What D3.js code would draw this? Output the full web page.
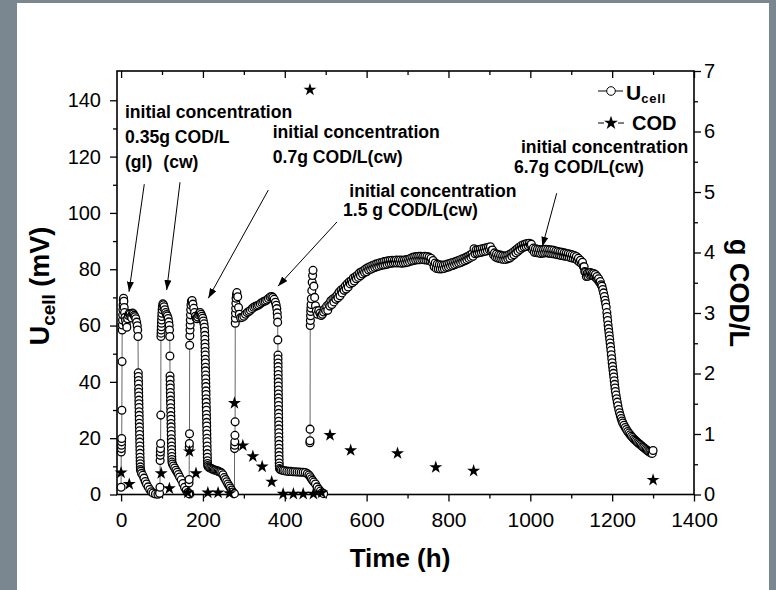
<!DOCTYPE html>
<html><head><meta charset="utf-8">
<script src="https://cdn.jsdelivr.net/npm/d3@7"></script>
<style>body{margin:0;background:#7a8690}svg{display:block}text{font-family:"Liberation Sans",Arial,Helvetica,sans-serif}</style>
</head><body><svg id="c" width="776" height="590"></svg>
<script>
// ---------- data: U_cell (mV) per run, [time h, value] ----------
const run1=[[0,2.6],[0.3,15.1],[0.6,16.3],[0.9,17.5],[1.2,18.7],[1.5,19.9],[1.9,29.9],[2.3,47.2],[2.7,58.4],[3.1,60.2],[3.5,62],[3.9,63.8],[4.4,65.6],[4.9,67.3],[5.4,69.1],[6,69.7],[6.8,68.6],[7.6,66.4],[8.5,64.6],[9.5,62.9],[11,61.8],[12.5,60.6],[14,59.4],[16,62.4],[18,63.6],[20,64.3],[22,64.1],[24,63.2],[26,62.7],[28,64.4],[30,64.2],[32,63.6],[34,63.1],[36,62.4],[38,61.2],[39.5,59.9],[40.5,58.4],[41.3,56.1],[42,43.2],[42.2,41.9],[42.4,40.5],[42.6,39.2],[42.8,37.6],[43,36.3],[43.2,35],[43.4,33.5],[43.6,32.2],[43.8,30.9],[44,29.4],[44.2,28.1],[44.4,26.7],[44.6,25.3],[44.8,24],[45,22.6],[45.2,21.3],[45.4,19.9],[45.6,18.6],[45.8,17.2],[46,15.9],[46.2,14.6],[46.4,13.2],[46.6,12],[46.8,10.9],[47,9.8],[47.3,8.9],[48.5,8.3],[50,7.5],[53,6.8],[56,5.8],[59,4.6],[62,3.7],[66,2.7],[70,1.8],[74,1],[78,0.5],[84,0.2],[90,0.1]];
const run2=[[94,0.4],[95,2.6],[95.4,12.1],[95.7,13.9],[96,15.1],[96.3,16.3],[96.6,18.1],[97,28.2],[97.4,56.1],[97.7,57.3],[98,58.4],[98.3,59.6],[98.6,60.8],[99,62],[99.4,63.2],[99.8,64.4],[100.3,65.6],[101,66.7],[102,67.7],[103.5,67.4],[105,66.7],[107,65.6],[109,64.6],[111,63.9],[113,63.4],[115,62.5],[116.5,61.3],[117.5,60],[118.3,58.4],[119,56.1],[119.3,49.2],[119.6,42.1],[119.8,40.7],[120,39.1],[120.2,37.8],[120.4,36.2],[120.6,35],[120.8,33.5],[121,32.3],[121.2,30.8],[121.4,29.5],[121.6,28],[121.8,26.7],[122,25.2],[122.2,24],[122.4,22.6],[122.6,21.3],[122.8,19.8],[123,18.6],[123.2,17.2],[123.4,16],[123.6,14.7],[123.8,13.5],[124,12.4],[124.3,11.5],[125.5,10.8],[128,10.1],[131,9.4],[134,8.6],[137,7.9],[140,7.1],[143,6.2],[147,5.2],[151,3.9],[155,2.6],[159,1.5],[163,0.7],[168,0.2]];
const run3=[[165.5,0.3],[166,4.1],[166.3,5.3],[166.6,16.9],[166.9,18.1],[167.2,21.6],[167.6,53],[168,56.4],[168.4,58.4],[168.8,60.2],[169.2,62],[169.6,63.8],[170.1,65.6],[170.8,67.3],[171.8,68.6],[173.5,68.9],[175.5,67.6],[177.5,66.1],[179.5,64.6],[181.5,63.3],[183.5,62.6],[185.5,62.4],[187.5,63],[189.5,63.8],[191.5,64.4],[193.5,64.6],[195.5,64],[197.5,63.3],[199.5,62.6],[201,61.6],[202.5,60.6],[203.5,59.4],[204.2,58],[204.6,56.5],[204.8,55.1],[205,53.6],[205.2,52.3],[205.4,50.8],[205.6,49.5],[205.8,48],[206,46.7],[206.2,45.2],[206.4,43.9],[206.6,42.4],[206.8,41.1],[207,39.6],[207.2,38.3],[207.4,36.8],[207.6,35.5],[207.8,34],[208,32.7],[208.2,31.2],[208.4,29.9],[208.6,28.4],[208.8,27.1],[209,25.6],[209.2,24.3],[209.4,22.8],[209.6,21.5],[209.8,20],[210,18.7],[210.2,17.2],[210.4,15.9],[210.6,14.5],[210.8,13.2],[211,12],[211.3,11],[211.7,10.3],[213,9.8],[216,9.5],[219,9.3],[222,9.1],[225,8.9],[228,8.7],[231,8.6],[234,8.4],[237,8.3],[240,8.1],[243,7.9],[246,7.6],[249,7],[252,6],[255,5.3],[258,4.5],[261,3.7],[264,3],[267,2.3],[270,1.6],[273,0.9],[276,0.3]];
const run4=[[277,0.3],[277.3,16.3],[277.6,17.5],[277.9,18.7],[278.2,21],[278.6,25.8],[279,60.8],[279.3,62.6],[279.6,64.4],[280,66.1],[280.5,67.9],[281,69.7],[282,70.9],[283,71.7],[285,70.2],[287,66.4],[289,64],[292,62.8],[296,62.9],[300,63.3],[304,64],[308,64.6],[312,65],[316,65.4],[320,66],[324,66.5],[328,66.8],[332,67],[336,67.3],[340,67.7],[344,68.2],[348,68.5],[352,68.7],[356,69.1],[360,69.6],[364,70.1],[368,70.3],[371,70],[374,69.3],[377,68.3],[379,67.2],[380.5,66],[381.5,64.5],[382.2,63],[382.6,61.2],[383,54.9],[383.4,49.5],[383.5,48.1],[383.6,46.7],[383.7,45.4],[383.8,44],[383.9,42.6],[384,41.2],[384.1,39.9],[384.2,38.5],[384.3,37.1],[384.4,35.7],[384.5,34.3],[384.6,33],[384.7,31.6],[384.8,30.2],[384.9,28.8],[385,27.4],[385.1,26],[385.2,24.7],[385.3,23.3],[385.4,21.9],[385.5,20.5],[385.6,19.2],[385.7,17.8],[385.8,16.4],[385.9,15.1],[386,13.8],[386.2,12.5],[386.4,11.2],[386.6,10.1],[387,9.2],[389,8.9],[392,8.7],[396,8.5],[400,8.4],[405,8.3],[410,8.2],[415,8.2],[420,8.1],[425,8.1],[430,8],[435,8],[440,7.9],[445,7.9],[450,7.8],[455,7.4],[459,6.9],[462,6.3],[465,5.6],[468,5],[471,4.4],[475,3.7],[479,2.7],[483,1.9],[487,1.2],[491,0.6],[495,0.3]];
const run5=[[461.4,18.4],[461.6,19.1],[461.8,23.2],[462.2,60],[462.6,61.8],[463,63.5],[463.4,65],[463.8,66.2],[464.3,67.5],[465,69.5],[466,72.4],[467,75.4],[468,77.8],[469,79.6],[471,74],[473,70],[475,67],[477,65.2],[480,64],[483,65.3],[486,64.4],[489,63.6],[492,64],[495,64.8],[497.5,65.9],
[500,65.3],[502.5,66.9],[505,65.4],[507.5,67.6],[510,66.9],[512.5,68.8],[515,67.5],[517.5,69.4],[520,68.4],[522.5,69.9],[525,69.3],[527.5,70.7],[530,69.9],[532.5,71.8],[535,70.6],[537.5,72.6],[540,71.6],[542.5,73.1],[545,72.5],[547.5,74],[550,73],[552.5,74.8],[555,73.7],[557.5,75.5],[560,74.8],[562.5,75.9],[565,75.2],[567.5,76.9],[570,75.8],[572.5,77.3],[575,76.6],[577.5,77.9],[580,77.1],[582.5,78.7],[585,77.7],[587.5,79.1],[590,78.3],[592.5,79.5],[595,78.8],[597.5,80.1],
[600,79.1],[602.5,80.5],[605,79.7],[607.5,80.9],[610,80],[612.5,81.2],[615,80.3],[617.5,81.5],[620,80.6],[622.5,81.8],[625,80.9],[627.5,82],[630,81.1],[632.5,82.3],[635,81.3],[637.5,82.4],[640,81.5],[642.5,82.7],[645,81.6],[647.5,82.8],[650,81.8],[652.5,83],[655,82],[657.5,83.1],[660,82.1],[662.5,83.2],[665,82.2],[667.5,83.1],[670,82.3],[672.5,83.3],[675,82.2],[677.5,83.2],[680,82.3],[682.5,83.3],[685,82.1],[687.5,83.2],[690,82.2],[692.5,83.3],[695,82.3],[697.5,83.4],
[700,82.5],[702.5,83.5],[705,82.7],[707.5,83.9],[710,82.9],[712.5,84.2],[715,83.1],[717.5,84.4],[720,83.3],[722.5,84.5],[725,83.4],[727.5,84.6],[730,83.4],[732.5,84.6],[735,83.5],[737.5,84.5],[740,83.4],[742.5,84.6],[745,83.3],[747.5,84.5],[750,83.2],[752.5,84.3],[755,83],[757.5,83.9],[760,82.5],[762.5,83.1],[765,80.9],[767.5,82.2],[770,80.3],[772.5,81.8],[775,80.2],[777.5,81.6],[780,80.1],[782.5,81.5],[785,80.2],[787.5,81.4],[790,80.3],[792.5,81.6],[795,80.6],[797.5,81.8],
[800,80.8],[802.5,82],[805,81.1],[807.5,82.3],[810,81.3],[812.5,82.5],[815,81.6],[817.5,82.7],[820,81.9],[822.5,83],[825,82.1],[827.5,83.3],[830,82.4],[832.5,83.6],[835,82.7],[837.5,83.9],[840,83],[842.5,84.2],[845,83.4],[847.5,84.6],[850,83.8],[852.5,85],[855,84.2],[857.5,85.4],[860,84.6],[862.5,87.3],[865,85.5],[867.5,86.8],[870,85.7],[872.5,86.9],[875,85.9],[877.5,87.1],[880,86],[882.5,87.3],[885,86.2],[887.5,87.4],[890,86.4],[892.5,87.6],[895,86.6],[897.5,87.8],
[900,86.9],[902.5,88],[905,86.6],[907.5,86.8],[910,85.1],[912.5,85.8],[915,84.3],[917.5,85.4],[920,84],[922.5,85.1],[925,83.8],[927.5,85],[930,83.6],[932.5,84.8],[935,83.5],[937.5,84.7],[940,83.5],[942.5,84.8],[945,83.7],[947.5,85.1],[950,84],[952.5,85.5],[955,84.6],[957.5,86],[960,85.1],[962.5,86.6],[965,85.8],[967.5,87.2],[970,86.4],[972.5,87.8],[975,87],[977.5,88.3],[980,87.5],[982.5,88.7],[985,87.9],[987.5,88.9],[990,88.1],[992.5,89.1],[995,88.3],[997.5,89.2],
[1000,88.6],[1002.5,88.9],[1005,87],[1007.5,87.5],[1010,86],[1012.5,87.3],[1015,85.9],[1017.5,87.1],[1020,85.8],[1022.5,87],[1025,85.6],[1027.5,86.9],[1030,85.7],[1032.5,87],[1035,85.8],[1037.5,87.1],[1040,85.9],[1042.5,87],[1045,85.7],[1047.5,86.9],[1050,85.6],[1052.5,86.8],[1055,85.5],[1057.5,86.7],[1060,85.4],[1062.5,86.5],[1065,85.2],[1067.5,86.3],[1070,85.1],[1072.5,86.1],[1075,84.9],[1077.5,86],[1080,84.8],[1082.5,85.8],[1085,84.6],[1087.5,85.7],[1090,84.5],[1092.5,85.5],[1095,84.3],[1097.5,85.3],
[1100,84.1],[1102.5,85.1],[1105,83.9],[1107.5,84.9],[1110,83.7],[1112.5,84.5],[1115,83.2],[1117.5,83.9],[1120,82.6],[1122.5,83.2],[1125,82],[1127.5,82.5],[1130,80.9],[1131.5,80.9],[1133,79.2],[1135,78.9],[1137,77.4],[1139,78.6],[1141,77.5],[1143,78.7],[1145,77.9],[1147,78.8],[1149,77.9],[1151,78.6],[1153,77.8],[1155,78.5],[1157,77.4],[1159,78.1],[1161,76.9],[1163,77.4],[1165,76.2],[1167,76.6],[1169,75.4],[1171,75.6],[1173,74.5],[1175,74],[1177,72.8],[1179,71.6],[1181,70.3],[1182.5,69],[1184,67.8],[1185.5,66.5],[1187,64.6],[1188,63.2],[1189,61.8],[1190,60.2],[1191,58.9],[1192,57.6],[1193,56.4],[1194,55.1],[1195,53.8],[1196,52.5],[1197,51.1],[1198,49.6],[1199,48.2],[1200,46.8],[1201,45.5],[1202,44.2],[1203,43],[1204,41.7],[1205,40.4],[1206,39.1],[1207,37.8],[1208,36.6],[1209.5,35.3],[1211,34],[1212.5,32.8],[1214,31.5],[1216,30.2],[1218,29],[1220,28],[1222,27],[1224,26.1],[1226,25.4],[1229,24.6],[1232,23.8],[1235,23.1],[1238,22.4],[1241,21.8],[1244,21.2],[1247,20.7],[1250,20.2],[1253,19.7],[1256,19.3],[1259,18.9],[1262,18.5],[1265,18.1],[1268,17.8],[1271,17.4],[1274,17],[1277,16.7],[1280,16.3],[1283,16],[1286,15.6],[1289,15.3],[1292,15],[1295,14.7],[1298,14.6],[1300,15.6]];
// COD (g COD/L), [time h, value]
const cod=[[0,0.36],[20,0.17],[98,0.35],[118,0.1],[163,0.03],[167,0.71],[183,0.35],[212,0.03],[237,0.03],[265,0.02],[277,1.51],[297.5,0.81],[322,0.63],[344.7,0.46],[368,0.21],[396,0.01],[421,0.01],[445,0.01],[461.5,6.69],[470,0.01],[490,0.03],[510.5,0.98],[561,0.73],[675.5,0.68],[769,0.45],[861.5,0.39],[1300,0.24]];
// ticks
const xMajor=[0,200,400,600,800,1000,1200,1400];
const xMinor=[100,300,500,700,900,1100,1300];
const yLMajor=[0,20,40,60,80,100,120,140];
const yLMinor=[10,30,50,70,90,110,130];
const yRMajor=[0,1,2,3,4,5,6,7];
const yRMinor=[0.5,1.5,2.5,3.5,4.5,5.5,6.5];
// annotations: text lines [t, U, text] and arrows [t0,U0,t1,U1]
const notes=[[9.5,133.7,"initial concentration"],[9.5,125.0,"0.35g COD/L"],[9.5,116.0,"(gl)"],[103.1,116.0,"(cw)"],
 [370.5,126.6,"initial concentration"],[370.5,117.9,"0.7g COD/L(cw)"],
 [557.6,105.8,"initial concentration"],[542.3,98.9,"1.5 g COD/L(cw)"],
 [977.2,121.3,"initial concentration"],[960.1,114.3,"6.7g COD/L(cw)"]];
const arrows=[[56.7,110.2,19.3,72.0],[144,110.9,111.4,72.6],[359.7,108.1,213.1,69.7],[527.6,96.8,383.4,74.0],[1064.5,107,1029.3,88.0]];

// ---------- drawing ----------
const svg=d3.select("#c");
svg.append("rect").attr("width",776).attr("height",590).attr("fill","#7a8690");
svg.append("rect").attr("x",17).attr("y",3).attr("width",752).attr("height",587).attr("fill","#fff");
const defs=svg.append("defs");
defs.append("marker").attr("id","ah").attr("markerUnits","userSpaceOnUse").attr("markerWidth",10).attr("markerHeight",7)
 .attr("refX",10).attr("refY",3.5).attr("orient","auto").append("path").attr("d","M0,0L10,3.5L0,7Z").attr("fill","#000");

const x=d3.scaleLinear().domain([-10,1400]).range([117,694]);
const yL=d3.scaleLinear().domain([0,150.4]).range([494.5,71]);
const yR=d3.scaleLinear().domain([0,7]).range([494.5,71]);

function styleAxis(g,fs){g.select(".domain").remove();g.selectAll("line").attr("stroke","#000").attr("stroke-width",1.3);
 g.selectAll("text").attr("font-size",fs).attr("fill","#000").attr("font-family","'Liberation Sans',Arial,sans-serif");}
const fmt=d3.format("d");
// bottom
svg.append("g").attr("transform","translate(0,494.5)").call(d3.axisBottom(x).tickValues(xMajor).tickSize(7).tickPadding(11).tickFormat(fmt)).call(g=>styleAxis(g,21));
svg.append("g").attr("transform","translate(0,494.5)").call(d3.axisBottom(x).tickValues(xMinor).tickSize(4).tickFormat("")).call(g=>styleAxis(g,0));
// top (inward)
svg.append("g").attr("transform","translate(0,71)").call(d3.axisBottom(x).tickValues(xMajor).tickSize(7).tickFormat("")).call(g=>styleAxis(g,0));
svg.append("g").attr("transform","translate(0,71)").call(d3.axisBottom(x).tickValues(xMinor).tickSize(4).tickFormat("")).call(g=>styleAxis(g,0));
// left
svg.append("g").attr("transform","translate(117,0)").call(d3.axisLeft(yL).tickValues(yLMajor).tickSize(7).tickPadding(9).tickFormat(fmt)).call(g=>styleAxis(g,20));
svg.append("g").attr("transform","translate(117,0)").call(d3.axisLeft(yL).tickValues(yLMinor).tickSize(4).tickFormat("")).call(g=>styleAxis(g,0));
// right
svg.append("g").attr("transform","translate(694,0)").call(d3.axisRight(yR).tickValues(yRMajor).tickSize(7).tickPadding(3).tickFormat(fmt)).call(g=>styleAxis(g,20));
svg.append("g").attr("transform","translate(694,0)").call(d3.axisRight(yR).tickValues(yRMinor).tickSize(4).tickFormat("")).call(g=>styleAxis(g,0));
// frame
svg.append("rect").attr("x",117).attr("y",71).attr("width",577).attr("height",423.5).attr("fill","none").attr("stroke","#000").attr("stroke-width",1.6);

// lines + circles
const runs=[run1,run2,run3,run4,run5];
const line=d3.line().x(d=>x(d[0])).y(d=>yL(d[1]));
const plot=svg.append("g");
plot.selectAll("path.run").data(runs).join("path").attr("class","run").attr("d",line).attr("fill","none").attr("stroke","#666").attr("stroke-width",1);
runs.forEach(r=>{
 plot.append("g").selectAll("circle").data(r).join("circle").attr("cx",d=>x(d[0])).attr("cy",d=>yL(d[1])).attr("r",3.9)
  .attr("fill","#fff").attr("stroke","#000").attr("stroke-width",1.3);
});
// stars
const star=d3.symbol().type(d3.symbolStar).size(52);
plot.append("g").selectAll("path").data(cod).join("path").attr("d",star)
 .attr("transform",d=>`translate(${x(d[0])},${yR(d[1])})`).attr("fill","#000");

// annotations
svg.append("g").selectAll("text").data(notes).join("text").attr("x",d=>x(d[0])).attr("y",d=>yL(d[1]))
 .attr("font-size",17.6).attr("font-weight","bold").attr("fill","#000").text(d=>d[2]);
svg.append("g").selectAll("line").data(arrows).join("line").attr("x1",d=>x(d[0])).attr("y1",d=>yL(d[1])).attr("x2",d=>x(d[2])).attr("y2",d=>yL(d[3]))
 .attr("stroke","#000").attr("stroke-width",1).attr("marker-end","url(#ah)");

// axis titles
svg.append("text").attr("x",400).attr("y",567).attr("text-anchor","middle").attr("font-size",26).attr("font-weight","bold").text("Time (h)");
const lt=svg.append("text").attr("transform","translate(49,286) rotate(-90)").attr("text-anchor","middle").attr("font-size",27).attr("font-weight","bold");
lt.append("tspan").text("U");
lt.append("tspan").attr("font-size",19).attr("dy",6).text("cell");
lt.append("tspan").attr("dy",-6).text(" (mV)");
svg.append("text").attr("transform","translate(730,293) rotate(90)").attr("text-anchor","middle").attr("font-size",27).attr("font-weight","bold").text("g COD/L");

// legend
const lg=svg.append("g");
lg.append("line").attr("x1",598).attr("x2",623).attr("y1",91).attr("y2",91).attr("stroke","#000").attr("stroke-width",1);
lg.append("circle").attr("cx",611).attr("cy",91).attr("r",4.3).attr("fill","#fff").attr("stroke","#000");
const lu=lg.append("text").attr("x",626).attr("y",100).attr("font-weight","bold").attr("font-size",21);
lu.append("tspan").text("U");
lu.append("tspan").attr("font-size",13).attr("dy",3).attr("letter-spacing",0.8).text("cell");
lg.append("line").attr("x1",598).attr("x2",604).attr("y1",123).attr("y2",123).attr("stroke","#000");
lg.append("line").attr("x1",618).attr("x2",624).attr("y1",123).attr("y2",123).attr("stroke","#000");
lg.append("path").attr("d",d3.symbol().type(d3.symbolStar).size(60)).attr("transform","translate(611,123)").attr("fill","#000");
lg.append("text").attr("x",632).attr("y",130).attr("font-weight","bold").attr("font-size",20).text("COD");
</script></body></html>
